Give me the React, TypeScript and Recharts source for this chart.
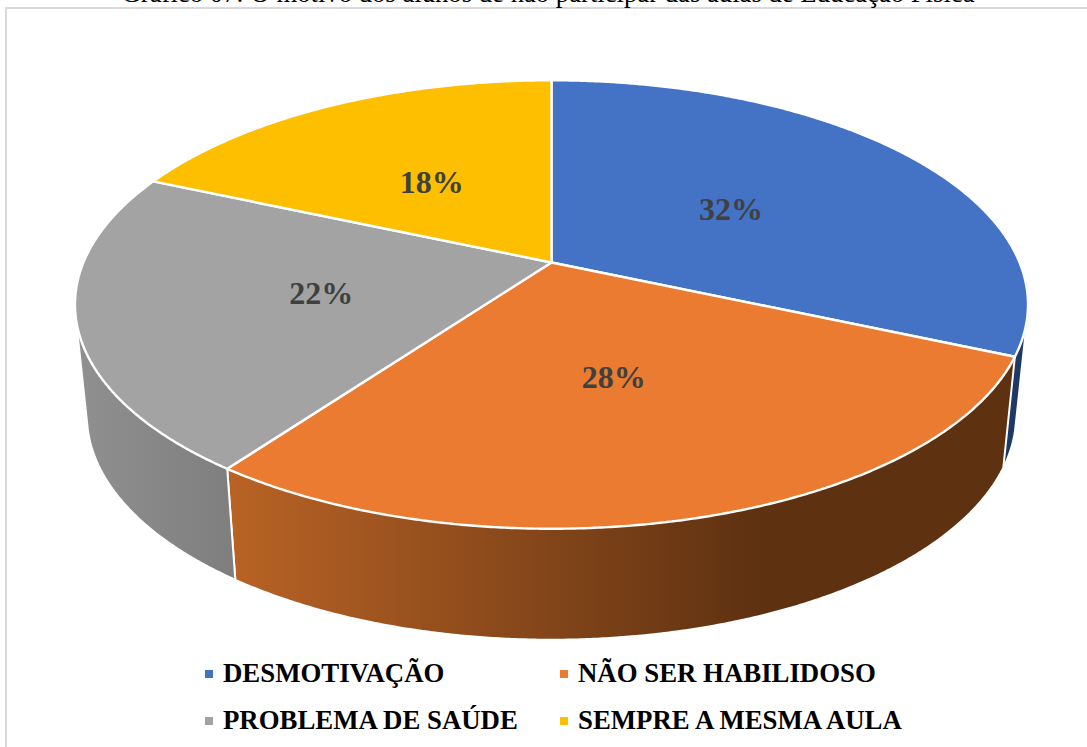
import { Legend, Pie, PieChart } from "recharts";

const categories = ["DESMOTIVAÇÃO", "NÃO SER HABILIDOSO", "PROBLEMA DE SAÚDE", "SEMPRE A MESMA AULA"];
const shares = [31.6, 28.4, 21.6, 18.4];
const topColors = ["#4472C4", "#EB7B30", "#A3A3A3", "#FDBF00"];
const wallColors = ["#1F3864", "url(#wallOrange)", "url(#wallGrey)", "#997300"];
const title = "Gráfico 07: O motivo dos alunos de não participar das aulas de Educação Física";

const chartData = categories.map((name, i) => ({ name, value: shares[i], fill: topColors[i], wall: wallColors[i] }));

const FONT = "'Liberation Serif', serif";
const CX = 551.5;
const CY = 304.5;
const RX = 476.5;
const TILT = 224 / 476;
// where the apex of the pie sits inside the ellipse (perspective)
const K = -0.1875;
const DEPTH = 111;
const BOTTOM_SCALE = 0.975;

type Pt = [number, number];

// angle is measured clockwise from 12 o'clock, r is 0..1
function project(cx: number, cy: number, rx: number, ry: number, deg: number, r = 1): Pt {
  const a = (deg * Math.PI) / 180;
  const u = r * Math.sin(a);
  const v = -r * Math.cos(a);
  const d = 1 + K * v;
  return [cx + (rx * u * Math.sqrt(1 - K * K)) / d, cy + (ry * (v + K)) / d];
}

function arc(cx: number, cy: number, rx: number, ry: number, from: number, to: number): Pt[] {
  const pts: Pt[] = [];
  const n = Math.max(2, Math.ceil(Math.abs(to - from) * 3));
  for (let i = 0; i <= n; i++) pts.push(project(cx, cy, rx, ry, from + ((to - from) * i) / n));
  return pts;
}

function hull(points: Pt[]): Pt[] {
  const pts = [...points].sort((a, b) => a[0] - b[0] || a[1] - b[1]);
  const cross = (o: Pt, a: Pt, b: Pt) => (a[0] - o[0]) * (b[1] - o[1]) - (a[1] - o[1]) * (b[0] - o[0]);
  const half = (list: Pt[]) => {
    const out: Pt[] = [];
    for (const p of list) {
      while (out.length >= 2 && cross(out[out.length - 2], out[out.length - 1], p) <= 0) out.pop();
      out.push(p);
    }
    out.pop();
    return out;
  };
  return [...half(pts), ...half([...pts].reverse())];
}

const toPath = (pts: Pt[]) => "M" + pts.map((p) => `${p[0].toFixed(2)},${p[1].toFixed(2)}`).join("L") + "Z";

function TopSlice(props: any) {
  const { cx, cy, outerRadius, startAngle, endAngle, fill } = props;
  const rx = outerRadius;
  const ry = outerRadius * TILT;
  const apex = project(cx, cy, rx, ry, 0, 0);
  const pts = [apex, ...arc(cx, cy, rx, ry, 90 - startAngle, 90 - endAngle)];
  return <path d={toPath(pts)} fill={fill} stroke="#FFFFFF" strokeWidth={2.4} strokeLinejoin="round" />;
}

function WallSlice(props: any) {
  const { cx, cy, outerRadius, startAngle, endAngle, payload } = props;
  const rx = outerRadius;
  const ry = outerRadius * TILT;
  const from = 90 - startAngle;
  const to = 90 - endAngle;
  const pts = [
    ...arc(cx, cy, rx, ry, from, to),
    ...arc(cx, cy + DEPTH, rx * BOTTOM_SCALE, ry, from, to),
  ];
  return <path d={toPath(hull(pts))} fill={payload.wall} stroke="#FFFFFF" strokeWidth={2} strokeLinejoin="round" />;
}

function SliceLabel(props: any) {
  const { cx, cy, outerRadius, midAngle, percent } = props;
  const [x, y] = project(cx, cy, outerRadius, outerRadius * TILT, 90 - midAngle, 0.49);
  return (
    <text x={x - 3.5} y={y + 2} textAnchor="middle" dominantBaseline="central" fill="#404040"
      style={{ fontFamily: FONT, fontWeight: 700, fontSize: 32 }}>
      {Math.round(percent * 100)}%
    </text>
  );
}

function LegendGrid({ payload }: any) {
  // both pies report to the legend, keep each category once
  const items = (payload || []).filter((item: any, i: number, all: any[]) => all.findIndex((o) => o.value === item.value) === i);
  return (
    <div style={{ display: "grid", gridTemplateColumns: "355px 355px", marginLeft: 205 }}>
      {items.map((item: any) => (
        <div key={item.value} style={{ display: "flex", alignItems: "center", height: 47, fontFamily: FONT, fontWeight: 700, fontSize: 26.8, color: "#000" }}>
          <span style={{ width: 8, height: 8, background: topColors[categories.indexOf(item.value)], marginRight: 10 }} />
          {item.value}
        </div>
      ))}
    </div>
  );
}

export default function App() {
  return (
    <div style={{ position: "absolute", left: 0, top: 0, width: 1087, height: 747, overflow: "hidden", background: "#FFFFFF" }}>
      <div style={{ position: "absolute", left: 5, top: 7, width: 1200, height: 900, border: "2px solid #D9D9D9" }} />
      <div style={{ position: "absolute", left: 0, top: -19, width: 1096, textAlign: "center", whiteSpace: "nowrap", fontFamily: FONT, fontSize: 26.7, lineHeight: "24px", color: "#000" }}>
        {title}
      </div>
      <div style={{ position: "absolute", left: 0, top: 0 }}>
        <PieChart width={1087} height={747} margin={{ top: 0, right: 0, bottom: 0, left: 0 }}>
          <defs>
            <linearGradient id="wallOrange" gradientUnits="userSpaceOnUse" x1={228} y1={0} x2={760} y2={0}>
              <stop offset="0%" stopColor="#B96325" />
              <stop offset="100%" stopColor="#5E3111" />
            </linearGradient>
            <linearGradient id="wallGrey" gradientUnits="userSpaceOnUse" x1={85} y1={0} x2={236} y2={0}>
              <stop offset="0%" stopColor="#8F8F8F" />
              <stop offset="100%" stopColor="#7E7E7E" />
            </linearGradient>
          </defs>
          <Pie data={chartData} dataKey="value" nameKey="name" cx={CX} cy={CY} outerRadius={RX} startAngle={90} endAngle={-270}
            shape={WallSlice} legendType="none" label={false} labelLine={false} isAnimationActive={false} />
          <Pie data={chartData} dataKey="value" nameKey="name" cx={CX} cy={CY} outerRadius={RX} startAngle={90} endAngle={-270}
            shape={TopSlice} label={SliceLabel} labelLine={false} isAnimationActive={false} />
          <Legend content={LegendGrid} wrapperStyle={{ left: 0, top: 650, width: 1087 }} />
        </PieChart>
      </div>
    </div>
  );
}
